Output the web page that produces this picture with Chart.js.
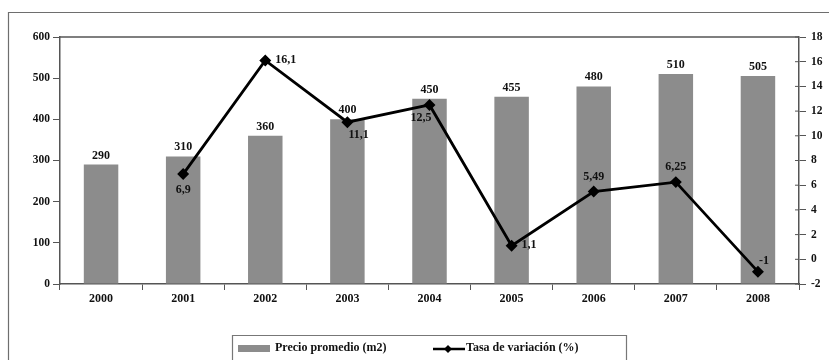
<!DOCTYPE html>
<html>
<head>
<meta charset="utf-8">
<script src="https://cdn.jsdelivr.net/npm/chart.js@4"></script>
<style>
  html, body { margin: 0; padding: 0; background: #fff; }
  #wrap { width: 829px; height: 360px; }
</style>
</head>
<body>
<div id="wrap"><canvas id="grafico" width="829" height="360"></canvas></div>
<script>
// Datos del gráfico
const anios = ['2000', '2001', '2002', '2003', '2004', '2005', '2006', '2007', '2008'];
const precioPromedio = [290, 310, 360, 400, 450, 455, 480, 510, 505];
const tasaVariacion = [null, 6.9, 16.1, 11.1, 12.5, 1.1, 5.49, 6.25, -1];
const etiquetasTasa = ['', '6,9', '16,1', '11,1', '12,5', '1,1', '5,49', '6,25', '-1'];
// donde va cada etiqueta de la línea
const ladoEtiqueta = ['', 'below', 'right', 'belowRight', 'belowLeft', 'right', 'above', 'above', 'aboveRight'];

const fuente = { family: "'Liberation Serif', 'Times New Roman', serif", size: 12, weight: 'bold' };
const fuenteEje = { family: "'Liberation Serif', 'Times New Roman', serif", size: 11.5, weight: 'bold' };
const fuenteCss = "bold 12px 'Liberation Serif', 'Times New Roman', serif";

// Marco, borde del área y leyenda
const decoracion = {
    id: 'decoracion',
    beforeDraw(chart) {
        const c = chart.ctx;
        c.save();
        c.strokeStyle = '#6e6e6e';
        c.lineWidth = 1.2;
        c.beginPath();
        c.moveTo(8.5, 400);
        c.lineTo(8.5, 12.5);
        c.lineTo(840, 12.5);
        c.stroke();
        c.restore();
    },
    afterDraw(chart) {
        const c = chart.ctx;
        const a = chart.chartArea;
        c.save();
        c.strokeStyle = '#555';
        c.lineWidth = 1.5;
        c.beginPath();
        c.moveTo(a.left, a.top);
        c.lineTo(a.right, a.top);
        c.stroke();

        // pequeñas marcas internas del eje derecho
        const yR = chart.scales.y1;
        c.lineWidth = 1;
        yR.ticks.forEach((t, i) => {
            const y = yR.getPixelForTick(i);
            c.beginPath();
            c.moveTo(a.right - 4, y);
            c.lineTo(a.right, y);
            c.stroke();
        });

        // etiquetas de barras
        c.font = fuenteCss;
        c.fillStyle = '#111';
        c.textAlign = 'center';
        c.textBaseline = 'bottom';
        chart.getDatasetMeta(0).data.forEach((bar, i) => {
            c.fillText(String(precioPromedio[i]), bar.x, bar.y - 3);
        });

        // etiquetas de la línea
        chart.getDatasetMeta(1).data.forEach((pt, i) => {
            if (tasaVariacion[i] === null) return;
            const lado = ladoEtiqueta[i];
            let x = pt.x, y = pt.y;
            c.textAlign = 'center';
            c.textBaseline = 'middle';
            if (lado === 'below') { y += 16; }
            else if (lado === 'above') { y -= 15; }
            else if (lado === 'right') { x += 10; c.textAlign = 'left'; y -= 1; }
            else if (lado === 'belowRight') { x += 1; y += 13; c.textAlign = 'left'; }
            else if (lado === 'belowLeft') { x += 2; y += 13; c.textAlign = 'right'; }
            else if (lado === 'aboveRight') { x += 1; y -= 11; c.textAlign = 'left'; }
            c.fillText(etiquetasTasa[i], x, y);
        });

        // leyenda
        const lx = 232.5, ly = 335.5;
        c.strokeStyle = '#777';
        c.lineWidth = 1.2;
        c.beginPath();
        c.moveTo(lx, 400);
        c.lineTo(lx, ly);
        c.lineTo(626.5, ly);
        c.lineTo(626.5, 400);
        c.stroke();

        c.fillStyle = '#8c8c8c';
        c.fillRect(238, 345, 32, 7);
        c.fillStyle = '#111';
        c.textAlign = 'left';
        c.textBaseline = 'middle';
        c.fillText(chart.data.datasets[0].label, 275, 348);

        c.strokeStyle = '#000';
        c.lineWidth = 2.5;
        c.beginPath();
        c.moveTo(433, 349);
        c.lineTo(465, 349);
        c.stroke();
        c.fillStyle = '#000';
        c.beginPath();
        c.moveTo(448, 345); c.lineTo(452, 349); c.lineTo(448, 353); c.lineTo(444, 349);
        c.closePath();
        c.fill();
        c.fillStyle = '#111';
        c.fillText(chart.data.datasets[1].label, 466, 348);
        c.restore();
    }
};

new Chart(document.getElementById('grafico').getContext('2d'), {
    type: 'bar',
    data: {
        labels: anios,
        datasets: [{
            type: 'bar',
            label: 'Precio promedio (m2)',
            data: precioPromedio,
            backgroundColor: '#8c8c8c',
            borderWidth: 0,
            barPercentage: 0.42,
            categoryPercentage: 1,
            yAxisID: 'y',
            order: 2
        }, {
            type: 'line',
            label: 'Tasa de variación (%)',
            data: tasaVariacion,
            borderColor: '#000',
            backgroundColor: '#000',
            borderWidth: 2.8,
            pointStyle: 'rectRot',
            pointRadius: 4,
            tension: 0,
            yAxisID: 'y1',
            order: 1
        }]
    },
    options: {
        responsive: false,
        animation: false,
        events: [],
        layout: { padding: { top: 37, left: 0, right: 0, bottom: 0 } },
        plugins: { legend: { display: false }, tooltip: { enabled: false } },
        scales: {
            x: {
                grid: { offset: true, drawOnChartArea: false, tickLength: 6, color: '#555', lineWidth: 1 },
                border: { color: '#555', width: 1.5 },
                ticks: { font: fuente, color: '#111', padding: 2 },
                afterFit(s) { s.height = 76; }
            },
            y: {
                position: 'left',
                min: 0, max: 600,
                grid: { drawOnChartArea: false, tickLength: 7, color: '#555' },
                border: { color: '#555', width: 1.5 },
                ticks: { stepSize: 100, font: fuenteEje, color: '#111', padding: 3 },
                afterFit(s) { s.width = 60; }
            },
            y1: {
                position: 'right',
                min: -2, max: 18,
                grid: { drawOnChartArea: false, tickLength: 7, color: '#555' },
                border: { color: '#555', width: 1.5 },
                ticks: { stepSize: 2, font: fuenteEje, color: '#111', padding: 5 },
                afterFit(s) { s.width = 30; }
            }
        }
    },
    plugins: [decoracion]
});
</script>
</body>
</html>
